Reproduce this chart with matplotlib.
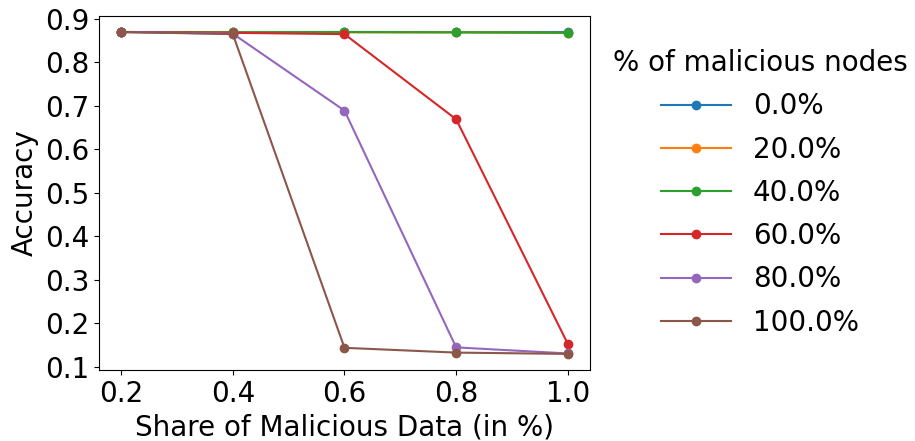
import matplotlib.pyplot as plt

share = [0.2, 0.4, 0.6, 0.8, 1.0]
node_labels = ["0.0%", "20.0%", "40.0%", "60.0%", "80.0%", "100.0%"]

acc_0 = [0.870, 0.870, 0.870, 0.870, 0.870]
acc_20 = [0.870, 0.869, 0.869, 0.869, 0.868]
acc_40 = [0.870, 0.869, 0.870, 0.869, 0.868]
acc_60 = [0.870, 0.868, 0.865, 0.669, 0.152]
acc_80 = [0.870, 0.866, 0.689, 0.144, 0.130]
acc_100 = [0.870, 0.865, 0.143, 0.132, 0.129]

all_acc = [acc_0, acc_20, acc_40, acc_60, acc_80, acc_100]

plt.rcParams['font.size'] = 20
fig = plt.figure(figsize=(9.15, 4.41), dpi=100)
ax = fig.add_axes([0.108, 0.161, 0.537, 0.803])

for acc, lab in zip(all_acc, node_labels):
    ax.plot(share, acc, marker='o', label=lab)

ax.set_xlabel("Share of Malicious Data (in %)")
ax.set_ylabel("Accuracy")
ax.set_xticks(share)
ax.set_yticks([0.1, 0.2, 0.3, 0.4, 0.5, 0.6, 0.7, 0.8, 0.9])
leg = ax.legend(title="% of malicious nodes", loc='center left', bbox_to_anchor=(0.995, 0.5),
                frameon=False, handlelength=2.5, labelspacing=0.55)

fig.savefig("out.png")
